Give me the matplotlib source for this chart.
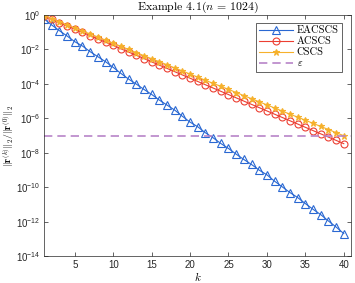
import matplotlib
matplotlib.use('Agg')
import matplotlib.pyplot as plt
import numpy as np

plt.rcParams['font.family'] = ['Liberation Sans', 'DejaVu Sans']
plt.rcParams['mathtext.fontset'] = 'cm'

k = np.arange(1, 41)

# log10 of relative residual
eacscs_exp = [-0.22, -0.58, -0.91, -1.22, -1.55, -1.80, -2.13, -2.42, -2.71, -3.04,
              -3.39, -3.72, -4.01, -4.32, -4.61, -4.94, -5.23, -5.52, -5.88, -6.22,
              -6.49, -6.84, -7.13, -7.46, -7.75, -8.08, -8.39, -8.68, -9.01, -9.28,
              -9.65, -9.98, -10.31, -10.60, -10.95, -11.28, -11.59, -11.96, -12.31, -12.69]
acscs_exp = [-0.06, -0.25, -0.44, -0.63, -0.82, -1.01, -1.20, -1.39, -1.58, -1.77,
             -1.96, -2.15, -2.34, -2.53, -2.72, -2.91, -3.10, -3.29, -3.48, -3.67,
             -3.86, -4.05, -4.24, -4.43, -4.62, -4.81, -5.00, -5.19, -5.38, -5.57,
             -5.76, -5.95, -6.14, -6.33, -6.52, -6.71, -6.90, -7.09, -7.28, -7.47]
cscs_exp = [-0.03, -0.21, -0.39, -0.57, -0.75, -0.93, -1.10, -1.28, -1.46, -1.64,
            -1.82, -2.00, -2.18, -2.36, -2.54, -2.71, -2.89, -3.07, -3.25, -3.43,
            -3.61, -3.79, -3.97, -4.14, -4.32, -4.50, -4.68, -4.86, -5.04, -5.22,
            -5.40, -5.58, -5.76, -5.93, -6.11, -6.29, -6.47, -6.65, -6.83, -7.01]
eps = 1e-7

eacscs = 10.0 ** np.array(eacscs_exp)
acscs = 10.0 ** np.array(acscs_exp)
cscs = 10.0 ** np.array(cscs_exp)

fig = plt.figure(figsize=(3.55, 2.83), dpi=100)
ax = fig.add_axes([0.124, 0.095, 0.866, 0.852])

ax.semilogy(k, eacscs, '-^', color='#2a68d2', lw=0.8, ms=5.5, mfc='none', mew=0.8,
            label='EACSCS')
ax.semilogy(k, acscs, '-o', color='#ec3f32', lw=0.8, ms=5, mfc='none', mew=0.8,
            label='ACSCS')
ax.semilogy(k, cscs, '-*', color='#f6b12c', lw=0.8, ms=4.5, mew=0.8, label='CSCS')
ax.axhline(eps, color='#b884c8', lw=1.2, ls=(0, (5, 3)), label=r'$\varepsilon$')

ax.set_xlim(1, 41)
ax.set_ylim(1e-14, 1)
ax.set_xticks([5, 10, 15, 20, 25, 30, 35, 40])
ax.set_yticks([10.0 ** p for p in range(-14, 1, 2)])
ax.tick_params(which='both', direction='in', top=True, right=True, labelsize=7,
               width=0.5, colors='#262626', pad=2.5)
ax.tick_params(which='major', length=3)
ax.tick_params(which='minor', length=1.5)
for s in ax.spines.values():
    s.set_linewidth(0.5)
    s.set_color('#262626')

ax.set_title(r'Example 4.1$(n\,=\,1024)$', family='cmr10', fontsize=8.5, pad=2)
ax.set_xlabel(r'$k$', fontsize=8, labelpad=0)
ax.set_ylabel(r'$\|\mathbf{r}^{(k)}\|_2/\|\mathbf{r}^{(0)}\|_2$', fontsize=7, labelpad=0)

leg = ax.legend(loc='upper right', prop={'family': 'cmr10', 'size': 7.5},
                handlelength=3.3, handletextpad=0.3, borderpad=0.3,
                labelspacing=0.15, fancybox=False, framealpha=1,
                bbox_to_anchor=(0.985, 0.99))
leg.get_frame().set_edgecolor('#262626')
leg.get_frame().set_linewidth(0.5)

fig.savefig('out.png', dpi=100)
